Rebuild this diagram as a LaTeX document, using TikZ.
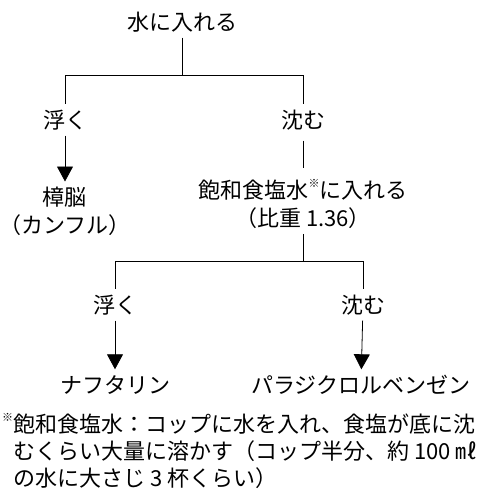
\documentclass[tikz,border=0pt]{standalone}
\usepackage{fontspec}
\setmainfont{Noto Sans CJK JP}
\usetikzlibrary{arrows.meta}
\newcommand{\kome}{{\fontsize{11}{11}\selectfont\raisebox{11pt}{※}}}
\tikzset{
  lbl/.style={inner xsep=0pt, inner ysep=5pt, text height=19pt, text depth=2pt,
    font=\fontsize{22}{28}\selectfont},
  twoline/.style={inner xsep=0pt, inner ysep=5pt, align=center,
    font=\fontsize{22}{28}\selectfont},
  foot/.style={inner sep=0pt, align=left, font=\fontsize{22}{27}\selectfont},
  arr/.style={-{Triangle[width=16pt,length=15pt]}},
}
\begin{document}
\begin{tikzpicture}[x=1pt,y=-1pt]
  \useasboundingbox (0,0) rectangle (480,490);
  \node[lbl] (water) at (182,22) {水に入れる};
  \coordinate (j1) at (182,75);
  \node[lbl] (float1) at (65,120) {浮く};
  \node[lbl] (sink1) at (303,120) {沈む};
  \node[twoline] (camphor) at (65,211) {樟脳\\（カンフル）};
  \node[twoline] (salt) at (303,204) {飽和食塩水\kome に入れる\\（比重 1.36）};
  \coordinate (j2) at (303,261);
  \node[lbl] (float2) at (115,305) {浮く};
  \node[lbl] (sink2) at (363,305) {沈む};
  \node[lbl] (naph) at (115,385) {ナフタリン};
  \node[lbl] (para) at (361,385) {パラジクロルベンゼン};
  \node[foot, anchor=west] (note) at (13,451) {\llap{\kome}飽和食塩水：コップに水を入れ、食塩が底に沈\\むくらい大量に溶かす（コップ半分、約 100 ㎖\\の水に大さじ 3 杯くらい）};
  \draw[line width=.8pt] (water) -- (j1);
  \draw[line width=.8pt] (j1) -| (float1);
  \draw[line width=.8pt] (j1) -| (sink1);
  \draw[line width=.8pt, arr] (float1) -- (camphor);
  \draw[line width=.8pt, shorten <=5pt, shorten >=6pt] (sink1) -- (salt);
  \draw[line width=.8pt] (salt) -- (j2);
  \draw[line width=.8pt] (j2) -| (float2);
  \draw[line width=.8pt] (j2) -| (sink2);
  \draw[line width=.8pt, arr] (float2) -- (naph);
  \draw[line width=.8pt, arr] (sink2) -- (para);
\end{tikzpicture}
\end{document}
